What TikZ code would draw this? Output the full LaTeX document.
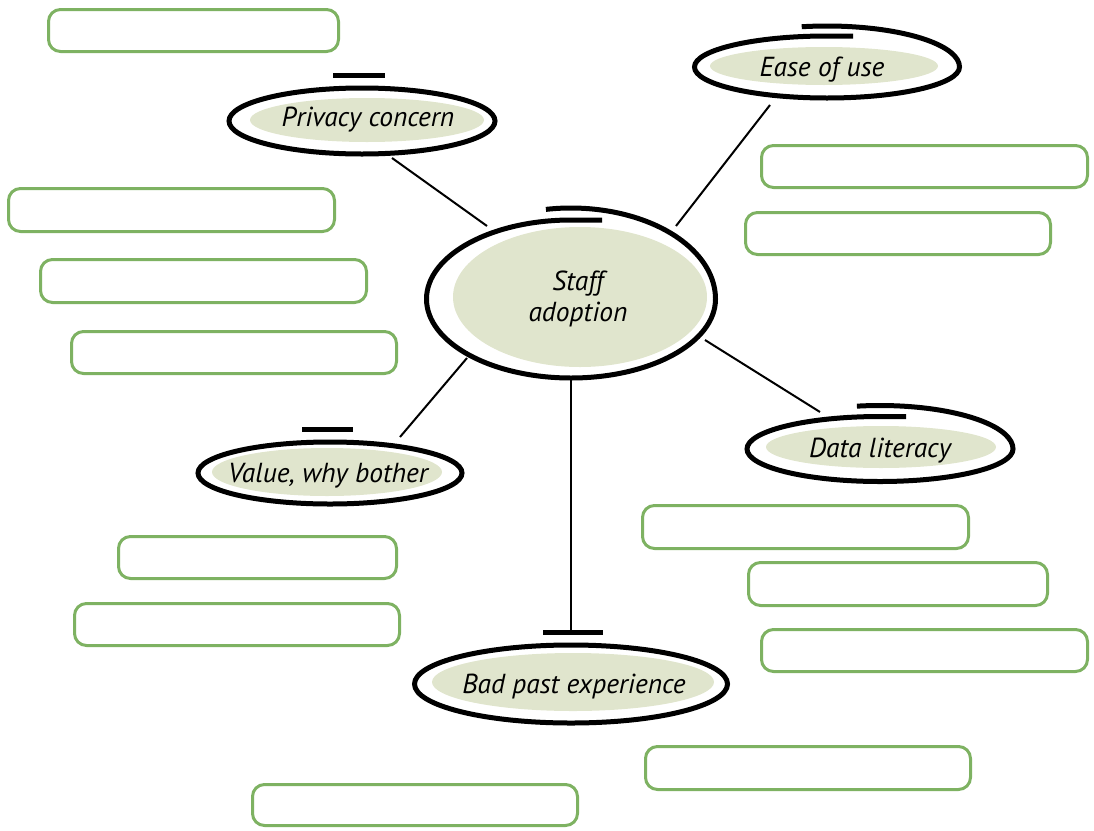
\documentclass[tikz,border=0pt]{standalone}
\usepackage{fontspec}
\setmainfont{PT Sans}
\usetikzlibrary{shapes.geometric,calc}
\definecolor{boxgreen}{RGB}{126,178,98}
\definecolor{olivefill}{RGB}{224,229,205}
\begin{document}
\begin{tikzpicture}[x=1pt,y=-1pt,
  ringline/.style={line width=5pt, black},
  hubnode/.style={ellipse, inner sep=0pt, outer sep=0pt},
  ringnode/.style={ellipse, draw, line width=5pt, inner sep=0pt, outer sep=0pt},
  conn/.style={line width=2pt, black},
  blank/.style={draw=boxgreen, line width=3pt, rounded corners=12pt, fill=white},
  caption/.style={font=\fontsize{27.5}{31}\selectfont\itshape, align=center, text=black, inner sep=0pt},
  lightfill/.style={fill=olivefill}]
\useasboundingbox (0,0) rectangle (1094,830);

% empty answer boxes
\draw[blank] (48.5,9.5) rectangle (338.5,51.5);
\draw[blank] (761.5,145.5) rectangle (1087.5,187.5);
\draw[blank] (8.5,188.5) rectangle (334.5,231.5);
\draw[blank] (745.5,212.5) rectangle (1050.5,254.5);
\draw[blank] (40.5,259.5) rectangle (366.5,302.5);
\draw[blank] (71.5,331.5) rectangle (396.5,373.5);
\draw[blank] (642.5,505.5) rectangle (968.5,548.5);
\draw[blank] (118.5,536.5) rectangle (396.5,578.5);
\draw[blank] (748.5,562.5) rectangle (1047.5,605.5);
\draw[blank] (74.5,603.5) rectangle (399.5,645.5);
\draw[blank] (761.5,629.5) rectangle (1087.5,671.5);
\draw[blank] (645.5,746.5) rectangle (970.5,789.5);
\draw[blank] (252.5,784.5) rectangle (577.5,825.5);

% ellipse nodes
\node[ringnode, minimum width=266pt, minimum height=66pt] (priv) at (362,121) {};
\node[hubnode, minimum width=265pt, minimum height=62pt] (ease) at (827,67) {};
\node[hubnode, minimum width=289pt, minimum height=158pt] (staff) at (571,299) {};
\node[ringnode, minimum width=264pt, minimum height=62pt] (value) at (330,473) {};
\node[hubnode, minimum width=266pt, minimum height=65pt] (data) at (880,449) {};
\node[ringnode, minimum width=313pt, minimum height=78pt] (bad) at (571,684) {};
\coordinate (badtail) at (572,632);

% inner fills
\fill[lightfill] (367,120) ellipse [x radius=117pt, y radius=22pt];
\fill[lightfill] (824,66) ellipse [x radius=114pt, y radius=19pt];
\fill[lightfill] (580,297) ellipse [x radius=127pt, y radius=70pt];
\fill[lightfill] (327,472) ellipse [x radius=115pt, y radius=24pt];
\fill[lightfill] (881,447) ellipse [x radius=115pt, y radius=21pt];
\fill[lightfill] (573,682) ellipse [x radius=141pt, y radius=29pt];

% spiral strokes (hand-drawn look)
\draw[ringline] (ease.center) ++(101:132.5pt and 41pt)
  arc[start angle=101, end angle=0, x radius=132.5pt, y radius=41pt]
  arc[start angle=0, end angle=-270, x radius=132.5pt, y radius=31pt] -- ++(26pt,0pt);
\draw[ringline] (staff.center) ++(100:144.5pt and 91pt)
  arc[start angle=100, end angle=0, x radius=144.5pt, y radius=91pt]
  arc[start angle=0, end angle=-270, x radius=144.5pt, y radius=79pt] -- ++(31pt,0pt);
\draw[ringline] (data.center) ++(100:133pt and 43.5pt)
  arc[start angle=100, end angle=0, x radius=133pt, y radius=43.5pt]
  arc[start angle=0, end angle=-270, x radius=133pt, y radius=32.5pt] -- ++(26pt,0pt);
\draw[ringline] (333,75) -- (385,75);
\draw[ringline] (302,429) -- (353,429);
\draw[ringline] (543,632) -- (603,632);

% connectors
\draw[conn] ($(priv.center)+(30pt,-37pt)$) -- ($(staff.center)+(-84pt,73pt)$);
\draw[conn] ($(ease.center)+(-57pt,-38pt)$) -- ($(staff.center)+(105pt,73pt)$);
\draw[conn] ($(staff.center)+(134pt,-41pt)$) -- ($(data.center)+(-60pt,37pt)$);
\draw[conn] ($(staff.center)+(-104pt,-59pt)$) -- ($(value.center)+(70pt,36pt)$);
\draw[conn] (staff.south) -- (staff.south |- badtail);

% labels
\node[caption] (privt) at (368,120) {Privacy concern};
\node[caption] (easet) at (822,70) {Ease of use};
\node[caption] (stafft) at (578,299) {Staff\\adoption};
\node[caption] (valuet) at (328,476) {Value, why bother};
\node[caption] (datat) at (880,451) {Data literacy};
\node[caption] (badt) at (574,687) {Bad past experience};
\end{tikzpicture}
\end{document}
